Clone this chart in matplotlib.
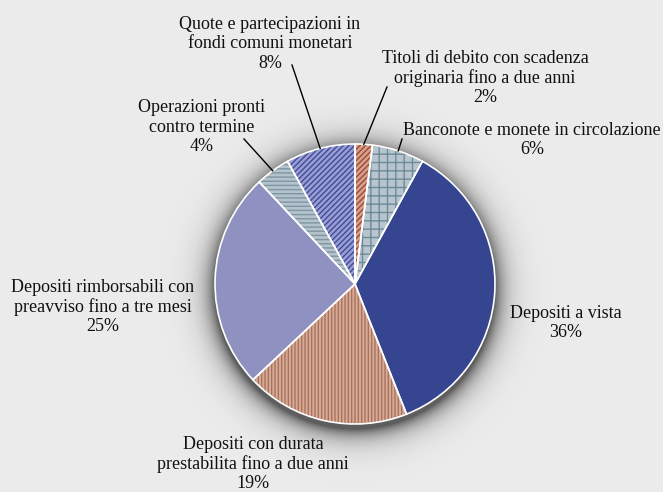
import numpy as np
import matplotlib
matplotlib.use("Agg")
import matplotlib.pyplot as plt
from matplotlib.patches import Wedge

plt.rcParams['font.family'] = ['Liberation Serif', 'DejaVu Serif']
plt.rcParams['hatch.linewidth'] = 1.0

# data, clockwise from 12 o'clock
labels = ["Titoli di debito con scadenza\noriginaria fino a due anni",
          "Banconote e monete in circolazione",
          "Depositi a vista",
          "Depositi con durata\nprestabilita fino a due anni",
          "Depositi rimborsabili con\npreavviso fino a tre mesi",
          "Operazioni pronti\ncontro termine",
          "Quote e partecipazioni in\nfondi comuni monetari"]
shares = [2, 6, 36, 19, 25, 4, 8]

face_colors = ['#d3a48c', '#b8c4ce', '#35458f', '#d8ab94', '#8f92c1', '#b4c2cb', '#9a9ed3']
hatch_colors = ['#a4453a', '#6e8c98', None, '#a87262', None, '#7e95a3', '#3f4c9a']
hatches = ['//////', '++', None, '|||||', None, '----', '//////']

# label layout in pixels (centre of text block), leader line start or None
label_xy = [(485, 78), (532, 140), (566, 323), (253, 464), (103, 307), (202, 127), (270, 44)]
leader_start = [(387, 87), (402, 139), None, None, None, (244, 139), (292, 65)]

W, H = 663, 492
cx, cy, r = 355, H - 284, 140

fig = plt.figure(figsize=(W / 100, H / 100), dpi=100, facecolor='#ebebeb')
ax = fig.add_axes([0, 0, 1, 1])

# soft shadow around the pie
xx, yy = np.meshgrid(np.arange(W) + 0.5, np.arange(H) + 0.5)
d = np.hypot(xx - cx, yy - (cy - 5))
alpha = np.clip(0.6 * np.exp(-(d - r) / 11.0), 0, 0.6)
shadow = np.zeros((H, W, 4))
shadow[..., 3] = alpha
ax.imshow(shadow, extent=(0, W, 0, H), origin='lower', zorder=0, interpolation='bilinear')

wedges, _ = ax.pie(shares, colors=face_colors, startangle=90, counterclock=False,
                   center=(cx, cy), radius=r, frame=True,
                   wedgeprops=dict(linewidth=0))
ax.set_xlim(0, W)
ax.set_ylim(0, H)
ax.axis('off')

for w, h, hc in zip(wedges, hatches, hatch_colors):
    w.set_zorder(2)
    if h:
        ax.add_patch(Wedge(w.center, w.r, w.theta1, w.theta2, fill=False,
                           hatch=h, edgecolor=hc, linewidth=0, zorder=3))
    ax.add_patch(Wedge(w.center, w.r, w.theta1, w.theta2, facecolor='none',
                       edgecolor='white', linewidth=1.2, zorder=4))

for w, lab, s, (tx, ty), ls in zip(wedges, labels, shares, label_xy, leader_start):
    ax.text(tx, H - ty, f"{lab}\n{s}%", ha='center', va='center', fontsize=13,
            linespacing=1.16, color='#111111', zorder=5)
    if ls:
        mid = np.deg2rad((w.theta1 + w.theta2) / 2)
        ex, ey = cx + r * np.cos(mid), cy + r * np.sin(mid)
        ax.plot([ls[0], ex], [H - ls[1], ey], color='black', lw=1.0, zorder=5)

fig.savefig('out.png', dpi=100, facecolor=fig.get_facecolor())
